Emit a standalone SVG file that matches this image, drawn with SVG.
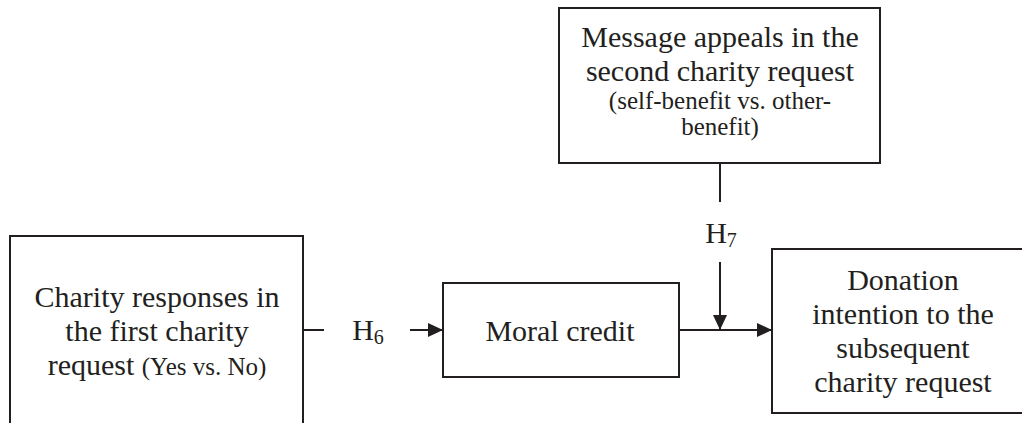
<svg xmlns="http://www.w3.org/2000/svg" width="1022" height="423" viewBox="0 0 1022 423">
<defs>
<style>
.box{fill:#fff;stroke:#231f20;stroke-width:2}
.ln{fill:none;stroke:#231f20;stroke-width:2}
text{font-family:"Liberation Serif","Times New Roman",serif;fill:#231f20;text-anchor:middle}
.big{font-size:30px}
.sm{font-size:25px}
.sub{font-size:20px}
</style>
<marker id="ah" markerUnits="userSpaceOnUse" markerWidth="15" markerHeight="14" refX="15" refY="7" orient="auto">
<path d="M0,0 L15,7 L0,14 z" fill="#231f20"/>
</marker>
</defs>
<rect width="1022" height="423" fill="#fff"/>
<g id="node-first">
<path class="ln" d="M10,424 V236 H303 V424"/>
<text class="big" x="157" y="307">Charity responses in</text>
<text class="big" x="157" y="341">the first charity</text>
<text class="big" x="157" y="375">request <tspan class="sm">(Yes vs. No)</tspan></text>
</g>
<g id="node-message">
<rect class="box" x="559" y="8" width="321" height="155"/>
<text class="big" x="720" y="47">Message appeals in the</text>
<text class="big" x="720" y="81">second charity request</text>
<text class="sm" x="720" y="109">(self-benefit vs. other-</text>
<text class="sm" x="720" y="135">benefit)</text>
</g>
<g id="node-moral">
<rect class="box" x="443" y="283" width="236" height="94"/>
<text class="big" x="560" y="341">Moral credit</text>
</g>
<g id="node-donation">
<rect class="box" x="772" y="249" width="262" height="164"/>
<text class="big" x="903" y="290">Donation</text>
<text class="big" x="903" y="324">intention to the</text>
<text class="big" x="903" y="358">subsequent</text>
<text class="big" x="903" y="392">charity request</text>
</g>
<g id="connectors">
<line class="ln" x1="303" y1="330" x2="324" y2="330"/>
<line class="ln" x1="410" y1="330" x2="443" y2="330" marker-end="url(#ah)"/>
<line class="ln" x1="679" y1="330" x2="772" y2="330" marker-end="url(#ah)"/>
<line class="ln" x1="720" y1="163" x2="720" y2="202"/>
<line class="ln" x1="720" y1="262" x2="720" y2="330" marker-end="url(#ah)"/>
<text class="big" x="721" y="243">H<tspan class="sub" dy="4">7</tspan></text>
<text class="big" x="368" y="340">H<tspan class="sub" dy="4">6</tspan></text>
</g>
</svg>
